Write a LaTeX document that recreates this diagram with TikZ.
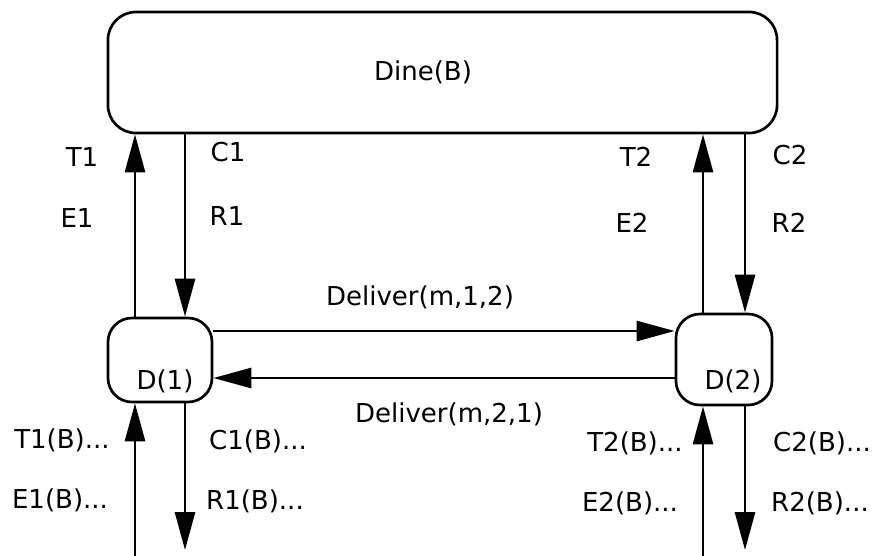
\documentclass[tikz,border=0pt]{standalone}
\usepackage{fontspec}
\setmainfont{DejaVu Sans}
\usetikzlibrary{arrows.meta,positioning}

\begin{document}
\begin{tikzpicture}
[
  x=0.025cm, y=-0.025cm,
  every node/.style={font=\fontsize{18.5}{22}\selectfont, inner sep=1pt},
  box/.style={draw, line width=1.9pt, rounded corners=0.6cm},
  arr/.style={draw, line width=2pt, -{Triangle[length=0.95cm,width=0.5cm]}},
  every edge/.style={arr}
]
\useasboundingbox (0,0) rectangle (879,555);

\node[box, minimum width=16.725cm, minimum height=3.025cm, rounded corners=0.7cm] (dine) at (442.5,72.5) {};
\node (dinetxt) at (423,72) {Dine(B)};
\node[box, minimum width=2.6cm, minimum height=2.1cm] (d1) at (160,360) {};
\node (d1txt) at (165,381) {D(1)};
\node[box, minimum width=2.4cm, minimum height=2.275cm] (d2) at (724,359.5) {};
\node (d2txt) at (733,381) {D(2)};

\coordinate (x1u) at (135,0);
\coordinate (x1d) at (185,0);
\coordinate (x2u) at (703,0);
\coordinate (x2d) at (745,0);
\coordinate (y12) at (0,331);
\coordinate (y21) at (0,378);
\coordinate (b1u) at (135,556);
\coordinate (b1d) at (185,550);
\coordinate (b2u) at (703,556);
\coordinate (b2d) at (745,550);

\draw (d1.north -| x1u) edge (dine.south -| x1u);
\draw (dine.south -| x1d) edge (d1.north -| x1d);
\draw (d2.north -| x2u) edge (dine.south -| x2u);
\draw (dine.south -| x2d) edge (d2.north -| x2d);
\draw (d1.east |- y12) edge (d2.west |- y12);
\draw (d2.west |- y21) edge (d1.east |- y21);
\draw (b1u) edge (d1.south -| b1u);
\draw (d1.south -| b1d) edge (b1d);
\draw (b2u) edge (d2.south -| b2u);
\draw (d2.south -| b2d) edge (b2d);

\node (t1) at (82,157) {T1};
\node (e1) at (77,218) {E1};
\node (c1) at (228,152) {C1};
\node (r1) at (227,216) {R1};
\node (t2) at (636,157) {T2};
\node (e2) at (632,223) {E2};
\node (c2) at (790,155) {C2};
\node (r2) at (789,223) {R2};
\node (del12) at (420,297) {Deliver(m,1,2)};
\node (del21) at (449,414) {Deliver(m,2,1)};
\node (t1b) at (62,440) {T1(B)...};
\node (e1b) at (60,500) {E1(B)...};
\node (c1b) at (258,441) {C1(B)...};
\node (r1b) at (255,501) {R1(B)...};
\node (t2b) at (635,443) {T2(B)...};
\node (e2b) at (630,503) {E2(B)...};
\node (c2b) at (822,443) {C2(B)...};
\node (r2b) at (820,503) {R2(B)...};
\end{tikzpicture}
\end{document}
